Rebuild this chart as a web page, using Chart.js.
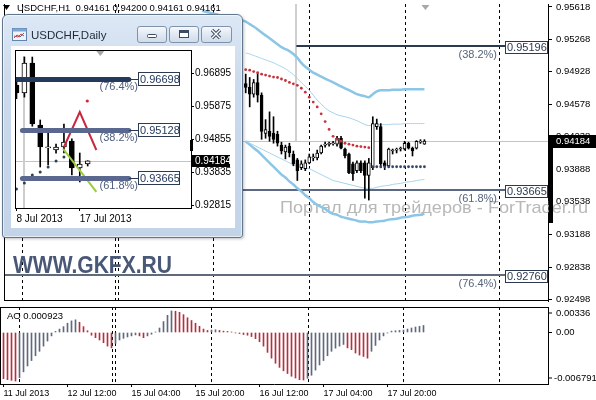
<!DOCTYPE html>
<html lang="ru">
<head>
<meta charset="UTF-8">
<title>USDCHF,H1</title>
<script src="https://cdn.jsdelivr.net/npm/chart.js"></script>
<style>
  html, body { margin: 0; padding: 0; background: #fff; }
  body { position: relative; width: 596px; height: 400px; overflow: hidden; font-family: "Liberation Sans", Arial, sans-serif; }
  #main { position: absolute; left: 0; top: 0; }
  #ao { position: absolute; left: 0; top: 305px; }
  .win { position: absolute; left: 2px; top: 14px; width: 241px; height: 224px; box-sizing: border-box;
         border: 1px solid #62768e; border-radius: 6px 6px 3px 3px;
         background: linear-gradient(#dde8f5, #cbdaec 30%, #c3d4e9);
         box-shadow: inset 0 0 0 1px rgba(255,255,255,.55), 1px 1px 3px rgba(0,0,0,.25); }
  .win .icon { position: absolute; left: 9px; top: 13px; }
  .win .title { position: absolute; left: 28px; top: 12px; font-size: 11.5px; line-height: 16px; color: #1d2a3a; }
  .win .btn { position: absolute; top: 11px; height: 17px; box-sizing: border-box; border: 1px solid #7f92aa; border-radius: 3px;
              background: linear-gradient(#f6f9fc, #e0e8f2 50%, #d0dcea); }
  .win .btn svg { position: absolute; left: 0; top: 0; }
  .win .client { position: absolute; left: 8px; top: 31px; width: 224px; height: 182px; background: #fff; }
  #d1 { position: absolute; left: 0; top: 0; }
</style>
</head>
<body>
<canvas id="main" width="596" height="305"></canvas>
<canvas id="ao" width="596" height="95"></canvas>

<div class="win">
  <svg class="icon" width="15" height="13" viewBox="0 0 15 13">
    <rect x="0.5" y="0.5" width="14" height="12" fill="#eef4fb" stroke="#5f84ad"/>
    <rect x="0.5" y="0.5" width="14" height="3" fill="#7ea6d2"/>
    <polyline points="2,10 5,7 8,9 12,5" fill="none" stroke="#3c6fb0" stroke-width="1"/>
    <polyline points="2,8 6,9 9,6 12,8" fill="none" stroke="#c44" stroke-width="1"/>
  </svg>
  <div class="title">USDCHF,Daily</div>
  <div class="btn" style="left:134px;width:30px">
    <svg width="28" height="15"><rect x="9.5" y="7.5" width="9" height="3" rx="1" fill="#fff" stroke="#3b4b62"/></svg>
  </div>
  <div class="btn" style="left:166px;width:30px">
    <svg width="28" height="15"><rect x="9.5" y="3.5" width="9" height="7" fill="#fff" stroke="#3b4b62"/><rect x="10" y="4" width="8" height="2" fill="#3b4b62"/></svg>
  </div>
  <div class="btn" style="left:198px;width:31px">
    <svg width="29" height="15"><path d="M10 3 L18 11 M18 3 L10 11" stroke="#3b4b62" stroke-width="3.2"/><path d="M10 3 L18 11 M18 3 L10 11" stroke="#fff" stroke-width="1.3"/></svg>
  </div>
  <div class="client"><canvas id="d1" width="224" height="182"></canvas></div>
</div>

<script>
const F = '"Liberation Sans", Arial, sans-serif';
Chart.defaults.font.family = F;
Chart.defaults.color = '#000';

// ---------- USDCHF H1 (bar index 0 = 11 Jul 2013 20:00) ----------
const h1Start = 60;
const h1Open  = [0.94800,0.94759,0.94686,0.94811,0.94675,0.94268,0.94288,0.94268,0.94257,0.94142,
                 0.94069,0.94131,0.94047,0.93984,0.93900,0.93890,0.93953,0.94005,0.94005,0.94058,
                 0.94142,0.94150,0.94155,0.94152,0.94215,0.94100,0.94047,0.93942,0.93869,0.93953,
                 0.93953,0.93817,0.93900,0.94340,0.94340,0.93953,0.93921,0.94079,0.94089,0.94100,
                 0.94100,0.94162,0.94110,0.94110,0.94173,0.94152];
const h1High  = [0.94900,0.94864,0.94843,0.94916,0.94700,0.94414,0.94497,0.94445,0.94290,0.94173,
                 0.94142,0.94162,0.94079,0.94000,0.93974,0.93984,0.94047,0.94047,0.94089,0.94142,
                 0.94173,0.94173,0.94183,0.94236,0.94236,0.94110,0.94058,0.93960,0.93974,0.93974,
                 0.93974,0.94000,0.94445,0.94420,0.94372,0.93974,0.94110,0.94100,0.94110,0.94121,
                 0.94183,0.94173,0.94121,0.94190,0.94200,0.94200];
const h1Low   = [0.94700,0.94550,0.94654,0.94602,0.94204,0.94215,0.94183,0.94162,0.94131,0.94047,
                 0.93995,0.94016,0.93921,0.93764,0.93880,0.93869,0.93942,0.93974,0.93984,0.94047,
                 0.94121,0.94131,0.94142,0.94131,0.94100,0.94005,0.93837,0.93764,0.93848,0.93848,
                 0.93576,0.93555,0.93880,0.94310,0.93900,0.93880,0.93900,0.94047,0.94058,0.94079,
                 0.94089,0.94100,0.94026,0.94100,0.94160,0.94150];
const h1Close = [0.94759,0.94686,0.94811,0.94675,0.94288,0.94309,0.94236,0.94204,0.94162,0.94079,
                 0.94121,0.94058,0.93942,0.93869,0.93942,0.93953,0.94016,0.94010,0.94058,0.94131,
                 0.94145,0.94155,0.94160,0.94215,0.94110,0.94026,0.93848,0.93837,0.93953,0.93869,
                 0.93817,0.93953,0.94372,0.94372,0.93942,0.93921,0.94100,0.94085,0.94095,0.94105,
                 0.94162,0.94110,0.94079,0.94183,0.94178,0.94184];

// Bollinger-type envelopes
const bbWideUpStart = 49;
const bbWideUp   = [0.95576,0.95565,0.95555,0.95544,0.95534,0.95523,0.95518,0.95513,0.95502,0.95492,
                    0.95476,0.95461,0.95434,0.95408,0.95377,0.95345,0.95314,0.95283,0.95251,0.95220,
                    0.95188,0.95167,0.95146,0.95115,0.95073,0.95021,0.94979,0.94948,0.94916,0.94895,
                    0.94874,0.94853,0.94832,0.94811,0.94790,0.94769,0.94749,0.94728,0.94707,0.94686,
                    0.94675,0.94665,0.94654,0.94686,0.94717,0.94728,0.94728,0.94728,0.94733,0.94733,
                    0.94733,0.94738,0.94738,0.94738,0.94738,0.94738,0.94738];
const bbNarrowUp = [0.95126,0.95115,0.95099,0.95084,0.95068,0.95052,0.95037,0.95021,0.95000,0.94979,
                    0.94958,0.94927,0.94895,0.94853,0.94811,0.94769,0.94728,0.94675,0.94623,0.94581,
                    0.94539,0.94508,0.94487,0.94466,0.94455,0.94445,0.94434,0.94419,0.94403,0.94382,
                    0.94361,0.94351,0.94356,0.94361,0.94361,0.94361,0.94361,0.94366,0.94366,0.94366,
                    0.94372,0.94372,0.94372,0.94372,0.94372,0.94372];
const bbNarrowDn = [0.94183,0.94162,0.94142,0.94121,0.94100,0.94079,0.94058,0.94037,0.94016,0.93995,
                    0.93974,0.93953,0.93932,0.93921,0.93911,0.93900,0.93890,0.93869,0.93848,0.93827,
                    0.93806,0.93785,0.93764,0.93754,0.93743,0.93733,0.93722,0.93712,0.93701,0.93691,
                    0.93681,0.93681,0.93681,0.93691,0.93701,0.93707,0.93712,0.93722,0.93728,0.93733,
                    0.93743,0.93749,0.93754,0.93764,0.93770,0.93775];
const bbWideDn   = [0.94183,0.94147,0.94110,0.94079,0.94037,0.93995,0.93953,0.93911,0.93869,0.93827,
                    0.93796,0.93754,0.93722,0.93681,0.93649,0.93607,0.93576,0.93534,0.93503,0.93482,
                    0.93461,0.93429,0.93408,0.93398,0.93377,0.93367,0.93356,0.93346,0.93335,0.93325,
                    0.93325,0.93319,0.93319,0.93325,0.93330,0.93335,0.93346,0.93351,0.93356,0.93367,
                    0.93372,0.93377,0.93388,0.93393,0.93398,0.93408];

// dotted trailing line: red above price, dark below
const sarRedStart = 60;
const sarRed  = [0.94948,0.94942,0.94927,0.94916,0.94900,0.94890,0.94879,0.94869,0.94864,0.94848,
                 0.94832,0.94811,0.94796,0.94780,0.94749,0.94707,0.94654,0.94602,0.94550,0.94476,
                 0.94393,0.94309,0.94236,0.94204,0.94183,0.94162,0.94152,0.94142,0.94131,0.94126,
                 0.94121,0.94115];
const sarBlueStart = 92;
const sarBlue = [0.93911,0.93911,0.93911,0.93911,0.93911,0.93911,0.93911,
                 0.93911,0.93911,0.93911,0.93911,0.93911,0.93911,0.93911];

// Awesome Oscillator, bars 0..105
const aoPrev = -0.00595;
const aoValues = [-0.00609,-0.00622,-0.00631,-0.00640,-0.00595,-0.00519,-0.00442,-0.00370,-0.00307,-0.00248,
                  -0.00180,-0.00113,-0.00045,0.00014,0.00045,0.00077,0.00122,0.00153,0.00167,0.00135,
                  0.00077,0.00023,-0.00036,-0.00068,-0.00099,-0.00135,-0.00180,-0.00203,-0.00144,-0.00099,
                  -0.00077,-0.00059,-0.00045,-0.00032,-0.00045,-0.00068,-0.00045,-0.00023,0.00005,0.00059,
                  0.00144,0.00226,0.00284,0.00280,0.00266,0.00235,0.00194,0.00158,0.00122,0.00081,
                  0.00045,0.00027,0.00032,0.00036,0.00027,0.00018,0.00014,0.00005,-0.00005,-0.00014,
                  -0.00027,-0.00036,-0.00054,-0.00081,-0.00122,-0.00180,-0.00262,-0.00338,-0.00406,-0.00460,
                  -0.00505,-0.00541,-0.00577,-0.00600,-0.00622,-0.00627,-0.00604,-0.00564,-0.00496,-0.00428,
                  -0.00370,-0.00307,-0.00248,-0.00207,-0.00180,-0.00158,-0.00203,-0.00226,-0.00271,-0.00298,
                  -0.00316,-0.00338,-0.00248,-0.00171,-0.00099,-0.00045,-0.00005,0.00018,0.00023,0.00027,
                  0.00032,0.00045,0.00059,0.00072,0.00081,0.000923];
const aoAxis = [0.00336, 0, -0.006791];
const aoAxisText = ['0.00336', '0.00', '-0.006791'];

// axes, levels, labels
const priceTicks = [0.95618,0.95268,0.94928,0.94578,0.94238,0.93888,0.93538,0.93188,0.92838,0.92498];
const xTickIdx  = [0, 16, 32, 48, 64, 80, 96];
const xTickText = ['11 Jul 2013','12 Jul 12:00','15 Jul 04:00','15 Jul 20:00','16 Jul 12:00','17 Jul 04:00','17 Jul 20:00'];
const daySep = [3.75, 27, 27.75, 51.75, 76, 100, 123.75];
const bidPrice = 0.94184;
const fibAnchorIdx = 72.75;
const fibNames  = ['(38.2%)', '(61.8%)', '(76.4%)'];
const fibPrices = [0.95196, 0.93665, 0.92760];
const fibFrom   = [fibAnchorIdx, null, null];
const axisBar = [0.93314, 0.94184];
const header = 'USDCHF,H1  0.94161 0.94200 0.94161 0.94161';
const watermark = 'Портал для трейдеров - ForTrader.ru';
const brand = 'WWW.GKFX.RU';

// ---------- USDCHF Daily (index 0 = 5 Jul 2013) ----------
const d1Open  = [0.96524,0.96277,0.97204,0.95288,0.94580,0.94516,0.94608,0.94794,0.93960,0.94083];
const d1High  = [0.96680,0.97389,0.97389,0.95443,0.95072,0.94700,0.95319,0.94860,0.94423,0.94184];
const d1Low   = [0.96100,0.96150,0.95250,0.93990,0.94052,0.94420,0.94423,0.93743,0.93527,0.94020];
const d1Close = [0.96277,0.97204,0.95319,0.94608,0.94608,0.94608,0.94763,0.93960,0.94083,0.94184];
const d1Sar   = [0.93311,0.93496,0.93743,0.93836,0.93990,0.94176,0.94299];
const d1ZigX = [6.0, 8.0, 10.1];
const d1ZigY = [0.94608, 0.95690, 0.94516];
const d1GreenX = [5.9, 10.1];
const d1GreenY = [0.94547, 0.93218];
const d1DotX = [8.95];
const d1DotY = [0.96030];
const d1Ticks = [0.96895, 0.95875, 0.94855, 0.93835, 0.92815];
const d1XTickIdx = [0, 8];
const d1XTickText = ['8 Jul 2013', '17 Jul 2013'];
const d1Bid = 0.94184;
const d1AnchorIdx = 0.9;
const d1FibNames  = ['(76.4%)', '(38.2%)', '(61.8%)'];
const d1FibPrices = [0.96698, 0.95128, 0.93665];
const d1FibFrom   = [-0.3, 0.75, 0.75];
const d1FibTo = 14.2;
const d1AxisBar = [0.94485, 0.94825];

// ---------- helpers ----------
const barMin = -0.875, barMax = 136.125;

function candleSets(start, o, h, l, c, bodyW) {
  return [
    { type: 'bar', order: 2, grouped: false, barThickness: 1, backgroundColor: '#000', borderWidth: 0,
      data: o.map((v, k) => ({ x: start + k, y: [l[k], h[k]] })) },
    { type: 'bar', order: 1, grouped: false, barThickness: bodyW, minBarLength: 1,
      borderColor: '#000', borderWidth: 1, borderSkipped: false,
      backgroundColor: o.map((v, k) => c[k] >= v ? '#fff' : '#000'),
      data: o.map((v, k) => ({ x: start + k, y: [v, c[k]] })) }
  ];
}
function lineSet(vals, start, color, width) {
  return { type: 'line', order: 5, data: vals.map((v, k) => ({ x: start + k, y: v })),
           borderColor: color, borderWidth: width, pointRadius: 0, tension: 0.3 };
}
function dotSet(vals, start, color, r) {
  return { type: 'line', order: 0, data: vals.map((v, k) => ({ x: start + k, y: v })), showLine: false,
           pointRadius: r, pointBackgroundColor: color, pointBorderWidth: 0 };
}
function seg(ctx, x0, y0, x1, y1) { ctx.beginPath(); ctx.moveTo(x0, y0); ctx.lineTo(x1, y1); ctx.stroke(); }
function fitText(ctx, text, x, yMid, width, font, color) {
  ctx.save();
  ctx.font = font; ctx.fillStyle = color; ctx.textBaseline = 'middle'; ctx.textAlign = 'left';
  const w = ctx.measureText(text).width;
  ctx.translate(x, yMid); ctx.scale(width / w, 1); ctx.fillText(text, 0, 0);
  ctx.restore();
}
function clipArea(ctx, a) { ctx.beginPath(); ctx.rect(a.left, a.top, a.right - a.left, a.bottom - a.top); ctx.clip(); }
function shiftMark(ctx, cx, top) {
  ctx.fillStyle = '#a8a8a8';
  ctx.beginPath(); ctx.moveTo(cx - 4, top); ctx.lineTo(cx + 4, top); ctx.lineTo(cx, top + 5); ctx.closePath(); ctx.fill();
}

const common = {
  animation: false, responsive: false, devicePixelRatio: 1, events: [],
  plugins: { legend: { display: false }, tooltip: { enabled: false } }
};

// ---------- main H1 chart ----------
const fibColors = ['#2c3a4f', '#5b6883', '#5f6b7d'];
const mainDecor = {
  id: 'mainDecor',
  beforeDatasetsDraw(chart) {
    const { ctx, chartArea: a, scales: { x, y } } = chart;
    fitText(ctx, watermark, 280, 208.5, 308, '17px ' + F, '#b8b8b8');
    ctx.save();
    clipArea(ctx, a);
    const by = Math.round(y.getPixelForValue(bidPrice)) + 0.5;
    ctx.lineWidth = 1; ctx.strokeStyle = '#c4c4c4';
    seg(ctx, a.left, by, a.right, by);
    const ax = Math.round(x.getPixelForValue(fibAnchorIdx));
    ctx.lineWidth = 2; ctx.strokeStyle = '#cfcfcf';
    seg(ctx, ax, a.top, ax, by);
    ctx.lineWidth = 1; ctx.strokeStyle = '#000'; ctx.setLineDash([3, 3]);
    daySep.forEach(i => { const px = Math.round(x.getPixelForValue(i)) + 0.5; seg(ctx, px, a.top, px, a.bottom); });
    ctx.setLineDash([]);
    ctx.lineWidth = 2;
    fibPrices.forEach((p, k) => {
      const py = Math.round(y.getPixelForValue(p));
      const x0 = fibFrom[k] === null ? a.left : x.getPixelForValue(fibFrom[k]);
      ctx.strokeStyle = fibColors[k];
      seg(ctx, x0, py, a.right, py);
    });
    ctx.restore();
  },
  afterDraw(chart) {
    const { ctx, chartArea: a, scales: { x, y } } = chart;
    ctx.save();
    // frame
    ctx.strokeStyle = '#000'; ctx.lineWidth = 1;
    seg(ctx, a.left + 0.5, a.top, a.left + 0.5, a.bottom);
    seg(ctx, a.left, a.bottom - 0.5, a.right, a.bottom - 0.5);
    // fib tags
    ctx.font = '11px ' + F; ctx.textBaseline = 'middle';
    fibPrices.forEach((p, k) => {
      const py = Math.round(y.getPixelForValue(p));
      const bx = a.right - 43;
      ctx.fillStyle = '#fff'; ctx.fillRect(bx, py - 5, 43, 13);
      ctx.strokeStyle = '#2b3a50'; ctx.strokeRect(bx + 0.5, py - 4.5, 42, 12);
      ctx.fillStyle = '#2b3a50'; ctx.textAlign = 'left';
      ctx.fillText(p.toFixed(5), bx + 2, py + 2);
      ctx.fillStyle = '#56647c'; ctx.textAlign = 'right';
      ctx.fillText(fibNames[k], a.right - 51, py + 9);
    });
    // header
    ctx.fillStyle = '#000';
    ctx.beginPath(); ctx.moveTo(3, 5); ctx.lineTo(10, 5); ctx.lineTo(6.5, 10); ctx.closePath(); ctx.fill();
    ctx.font = '9.5px ' + F; ctx.textAlign = 'left';
    ctx.fillText(header, 17, 8.5);
    // brand
    fitText(ctx, brand, 13, 266.5, 159, 'bold 24px ' + F, '#4a5877');
    // bid tag and range bar on axis
    const by = Math.round(y.getPixelForValue(bidPrice));
    ctx.fillStyle = '#000';
    ctx.fillRect(a.right + 1, by - 6, chart.width - a.right - 1, 13);
    const t = Math.round(y.getPixelForValue(axisBar[1])), b = Math.round(y.getPixelForValue(axisBar[0]));
    ctx.fillRect(a.right + 1, t, 4, b - t);
    ctx.fillStyle = '#fff'; ctx.font = '9.5px ' + F;
    ctx.fillText(bidPrice.toFixed(5), a.right + 8, by + 0.5);
    shiftMark(ctx, x.getPixelForValue(h1Start + h1Open.length - 1) + 1, a.top + 1);
    ctx.restore();
  }
};

new Chart(document.getElementById('main'), {
  type: 'bar',
  data: { datasets: [
    lineSet(bbWideUp, bbWideUpStart, '#8cc6e6', 2.5),
    lineSet(bbNarrowUp, h1Start, '#a6d3ea', 1),
    lineSet(bbNarrowDn, h1Start, '#a6d3ea', 1),
    lineSet(bbWideDn, h1Start, '#8cc6e6', 2.5),
    ...candleSets(h1Start, h1Open, h1High, h1Low, h1Close, 3),
    dotSet(sarRed, sarRedStart, '#c8323c', 1.4),
    dotSet(sarBlue, sarBlueStart, '#34466a', 1.4)
  ] },
  options: Object.assign({}, common, {
    layout: { padding: { left: 0, top: 0, right: 0, bottom: 2 } },
    scales: {
      x: { type: 'linear', min: barMin, max: barMax, offset: false, display: false },
      y: { position: 'right', min: 0.92477, max: 0.95649,
           afterBuildTicks: s => { s.ticks = priceTicks.map(v => ({ value: v })); },
           afterFit: s => { s.width = 48; s.paddingTop = 0; s.paddingBottom = 0; },
           grid: { drawOnChartArea: false, tickLength: 4, tickColor: '#000' },
           border: { color: '#000' },
           ticks: { autoSkip: false, padding: 4, font: { size: 9.5 }, color: '#000', callback: v => v.toFixed(5) } }
    }
  }),
  plugins: [mainDecor]
});

// ---------- AO sub-window ----------
const aoColors = aoValues.map((v, i) => v < (i ? aoValues[i - 1] : aoPrev) ? '#b3303c' : '#5e697d');
const aoDecor = {
  id: 'aoDecor',
  beforeDatasetsDraw(chart) {
    const { ctx, chartArea: a, scales: { x } } = chart;
    ctx.save();
    ctx.strokeStyle = '#000'; ctx.lineWidth = 1; ctx.setLineDash([3, 3]);
    daySep.forEach(i => { const px = Math.round(x.getPixelForValue(i)) + 0.5; seg(ctx, px, a.top, px, a.bottom); });
    ctx.restore();
  },
  afterDraw(chart) {
    const { ctx, chartArea: a, scales: { y } } = chart;
    ctx.save();
    ctx.strokeStyle = '#000'; ctx.lineWidth = 1;
    seg(ctx, a.left, a.top + 0.5, a.right, a.top + 0.5);
    seg(ctx, a.left + 0.5, a.top, a.left + 0.5, a.bottom);
    ctx.fillStyle = '#000'; ctx.font = '9.5px ' + F; ctx.textBaseline = 'middle'; ctx.textAlign = 'left';
    ctx.fillText('AO ' + aoValues[aoValues.length - 1].toFixed(6), 7, a.top + 9);
    const ys = [a.top + 6, Math.round(y.getPixelForValue(aoAxis[1])) + 0.5, a.bottom - 6];
    aoAxisText.forEach((s, k) => {
      seg(ctx, a.right, ys[k], a.right + 4, ys[k]);
      ctx.fillText(s, a.right + (k === 2 ? 6 : 8), ys[k]);
    });
    ctx.restore();
  }
};

new Chart(document.getElementById('ao'), {
  type: 'bar',
  data: { datasets: [{
    data: aoValues.map((v, i) => ({ x: i, y: v })), backgroundColor: aoColors,
    barThickness: 1, grouped: false, borderWidth: 0
  }] },
  options: Object.assign({}, common, {
    layout: { padding: { left: 0, top: 2, right: 0, bottom: 0 } },
    scales: {
      x: { type: 'linear', min: barMin, max: barMax, offset: false, position: 'bottom',
           afterBuildTicks: s => { s.ticks = xTickIdx.map(v => ({ value: v })); },
           afterFit: s => { s.height = 16; s.paddingLeft = 0; s.paddingRight = 0; },
           grid: { drawOnChartArea: false, tickLength: 3, tickColor: '#000', offset: false },
           border: { color: '#000' },
           ticks: { autoSkip: false, maxRotation: 0, align: 'start', padding: 1, font: { size: 9 }, color: '#000',
                    callback: v => xTickText[xTickIdx.indexOf(v)] } },
      y: { position: 'right', min: aoAxis[2], max: aoAxis[0],
           afterFit: s => { s.width = 48; s.paddingTop = 0; s.paddingBottom = 0; },
           grid: { drawOnChartArea: false, drawTicks: false }, border: { color: '#000' },
           ticks: { display: false } }
    }
  }),
  plugins: [aoDecor]
});

// ---------- Daily inset ----------
const d1FibColors = ['#233a5c', '#5a6890', '#5a6890'];
const d1Decor = {
  id: 'd1Decor',
  beforeDatasetsDraw(chart) {
    const { ctx, chartArea: a, scales: { x, y } } = chart;
    ctx.save();
    clipArea(ctx, a);
    const by = Math.round(y.getPixelForValue(d1Bid)) + 0.5;
    ctx.lineWidth = 1; ctx.strokeStyle = '#c4c4c4';
    seg(ctx, a.left, by, a.right, by);
    const ax = Math.round(x.getPixelForValue(d1AnchorIdx));
    ctx.lineWidth = 2; ctx.strokeStyle = '#cdcdcd';
    seg(ctx, ax, a.top + 6, ax, a.bottom);
    ctx.restore();
  },
  afterDatasetsDraw(chart) {
    const { ctx, chartArea: a, scales: { x, y } } = chart;
    ctx.save();
    clipArea(ctx, a);
    ctx.lineWidth = 5; ctx.lineCap = 'round';
    d1FibPrices.forEach((p, k) => {
      const py = Math.round(y.getPixelForValue(p)) + 0.5;
      ctx.strokeStyle = d1FibColors[k];
      seg(ctx, x.getPixelForValue(d1FibFrom[k]), py, x.getPixelForValue(d1FibTo), py);
    });
    ctx.restore();
  },
  afterDraw(chart) {
    const { ctx, chartArea: a, scales: { x, y } } = chart;
    ctx.save();
    ctx.strokeStyle = '#000'; ctx.lineWidth = 1;
    seg(ctx, a.left + 0.5, a.top, a.left + 0.5, a.bottom);
    seg(ctx, a.left, a.top + 0.5, a.right, a.top + 0.5);
    ctx.font = '11px ' + F; ctx.textBaseline = 'middle';
    const x1 = x.getPixelForValue(d1FibTo);
    d1FibPrices.forEach((p, k) => {
      const py = Math.round(y.getPixelForValue(p));
      const bx = Math.round(x1) + 9;
      ctx.strokeStyle = '#2b3a50';
      seg(ctx, x1, py + 0.5, bx, py + 0.5);
      ctx.fillStyle = '#fff'; ctx.fillRect(bx, py - 7, 42, 14);
      ctx.strokeRect(bx + 0.5, py - 6.5, 41, 13);
      ctx.fillStyle = '#24385a'; ctx.textAlign = 'left';
      ctx.fillText(p.toFixed(5), bx + 2, py + 0.5);
      ctx.fillStyle = '#4f5e7b'; ctx.textAlign = 'right';
      ctx.fillText(d1FibNames[k], bx, py + 8);
    });
    // bid tag and range bar
    const by = Math.round(y.getPixelForValue(d1Bid));
    ctx.fillStyle = '#000';
    ctx.fillRect(a.right, by - 6, 39, 12);
    const t = Math.round(y.getPixelForValue(d1AxisBar[1])), b = Math.round(y.getPixelForValue(d1AxisBar[0]));
    ctx.fillRect(a.right - 1, t, 3, b - t);
    ctx.fillStyle = '#fff'; ctx.font = '10px ' + F; ctx.textAlign = 'left';
    ctx.fillText(d1Bid.toFixed(5), a.right + 4, by + 0.5);
    shiftMark(ctx, x.getPixelForValue(10.6), a.top + 1);
    ctx.restore();
  }
};

new Chart(document.getElementById('d1'), {
  type: 'bar',
  data: { datasets: [
    ...candleSets(0, d1Open, d1High, d1Low, d1Close, 5),
    dotSet(d1Sar, 0, '#2d3e57', 1.5),
    { type: 'line', order: 0, data: d1ZigX.map((v, k) => ({ x: v, y: d1ZigY[k] })),
      borderColor: '#c8283e', borderWidth: 2, pointRadius: 0 },
    { type: 'line', order: 0, data: d1GreenX.map((v, k) => ({ x: v, y: d1GreenY[k] })),
      borderColor: '#9ccc3a', borderWidth: 2, pointRadius: 0 },
    { type: 'line', order: 0, data: d1DotX.map((v, k) => ({ x: v, y: d1DotY[k] })), showLine: false,
      pointRadius: 1.6, pointBackgroundColor: '#d0283a', pointBorderWidth: 0 }
  ] },
  options: Object.assign({}, common, {
    layout: { padding: { left: 2, top: 4, right: 0, bottom: 0 } },
    scales: {
      x: { type: 'linear', min: -0.1875, max: 22.0625, offset: false, position: 'bottom',
           afterBuildTicks: s => { s.ticks = d1XTickIdx.map(v => ({ value: v })); },
           afterFit: s => { s.height = 20; s.paddingLeft = 0; s.paddingRight = 0; },
           grid: { drawOnChartArea: false, tickLength: 3, tickColor: '#000', offset: false },
           border: { color: '#000' },
           ticks: { autoSkip: false, maxRotation: 0, align: 'start', padding: 2, font: { size: 10 }, color: '#000',
                    callback: v => d1XTickText[d1XTickIdx.indexOf(v)] } },
      y: { position: 'right', min: 0.92723, max: 0.97606,
           afterBuildTicks: s => { s.ticks = d1Ticks.map(v => ({ value: v })); },
           afterFit: s => { s.width = 44; s.paddingTop = 0; s.paddingBottom = 0; },
           grid: { drawOnChartArea: false, tickLength: 3, tickColor: '#000' },
           border: { color: '#000' },
           ticks: { autoSkip: false, padding: 1, font: { size: 10 }, color: '#000', callback: v => v.toFixed(5) } }
    }
  }),
  plugins: [d1Decor]
});
</script>
</body>
</html>
